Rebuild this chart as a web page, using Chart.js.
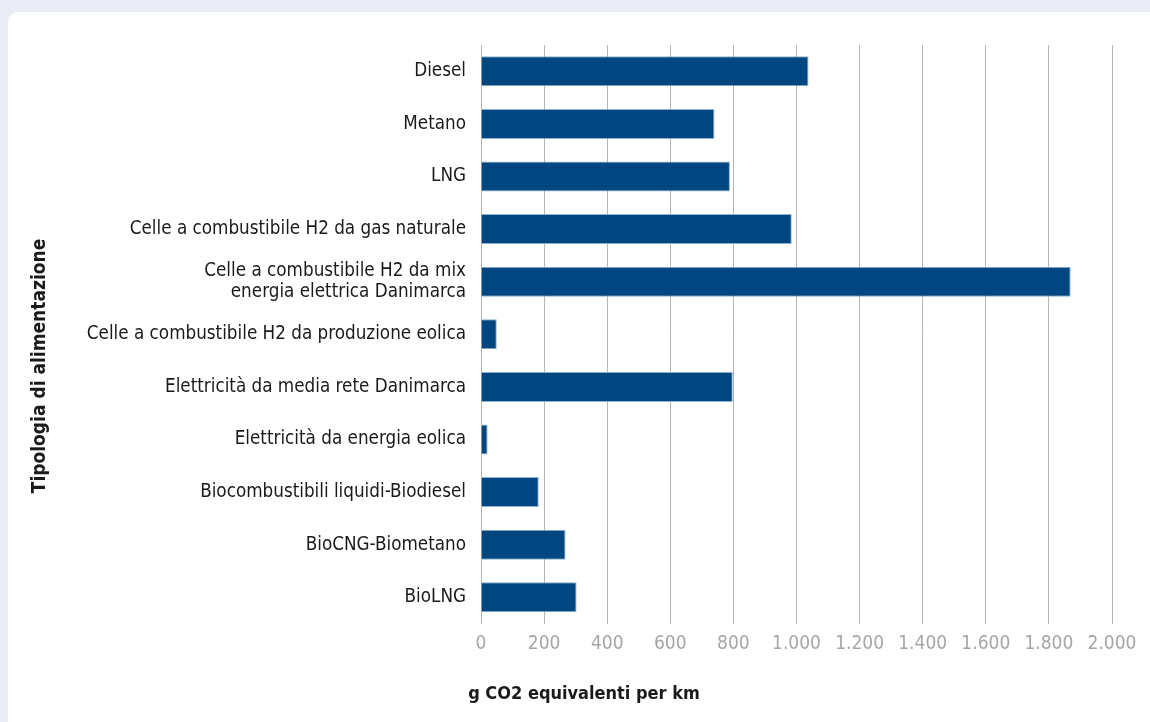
<!DOCTYPE html>
<html lang="it">
<head>
<meta charset="utf-8">
<title>Emissioni per tipologia di alimentazione</title>
<script src="https://cdn.jsdelivr.net/npm/chart.js@4"></script>
<style>
  html, body { margin: 0; padding: 0; overflow: hidden; background: #eaecf5; }
  .card {
    position: absolute; left: 8px; top: 12px;
    width: 1160px; height: 730px;
    background: #ffffff; border-radius: 10px;
  }
  #emissioni { display: block; }
</style>
</head>
<body>
<div class="card">
  <canvas id="emissioni" width="1152" height="710"></canvas>
</div>
<script>
const categorie = [
    'Diesel',
    'Metano',
    'LNG',
    'Celle a combustibile H2 da gas naturale',
    ['Celle a combustibile H2 da mix', 'energia elettrica Danimarca'],
    'Celle a combustibile H2 da produzione eolica',
    'Elettricità da media rete Danimarca',
    'Elettricità da energia eolica',
    'Biocombustibili liquidi-Biodiesel',
    'BioCNG-Biometano',
    'BioLNG'
];
const emissioni = [1038, 740, 789, 985, 1869, 50, 798, 21, 183, 268, 303];

const asseX = { min: 0, max: 2000, step: 200 };
const titoloX = 'g CO2 equivalenti per km';
const titoloY = 'Tipologia di alimentazione';

const FONT = "'Liberation Sans Narrow', 'DejaVu Sans Condensed', 'Arial Narrow', sans-serif";

// numeri all'italiana: 1.000, 1.200 ...
function formatta(v) {
    return v.toLocaleString('it-IT');
}

// titolo verticale a sinistra, disegnato a mano
const titoloVerticale = {
    id: 'titoloVerticale',
    afterDraw(chart) {
        const ctx = chart.ctx;
        ctx.save();
        ctx.translate(32, 354);
        ctx.rotate(-Math.PI / 2);
        ctx.font = 'bold 19px ' + FONT;
        ctx.fillStyle = '#1a1a1a';
        ctx.textAlign = 'center';
        ctx.textBaseline = 'middle';
        ctx.fillText(titoloY, 0, 0);
        ctx.restore();
    }
};

new Chart(document.getElementById('emissioni'), {
    type: 'bar',
    data: {
        labels: categorie,
        datasets: [{
            data: emissioni,
            backgroundColor: '#004680',
            borderColor: '#8fb0d0',
            borderWidth: 1,
            borderSkipped: 'start',
            categoryPercentage: 1,
            barPercentage: 0.57
        }]
    },
    options: {
        indexAxis: 'y',
        responsive: false,
        animation: false,
        layout: { padding: { top: 33, right: 48, bottom: 17, left: 48 } },
        plugins: {
            legend: { display: false },
            tooltip: { enabled: false },
            title: {
                display: true,
                position: 'bottom',
                text: titoloX,
                color: '#1a1a1a',
                font: { family: FONT, size: 18, weight: 'bold' },
                padding: { top: 19, bottom: 0 }
            }
        },
        scales: {
            x: {
                min: asseX.min,
                max: asseX.max,
                grid: { color: '#b4b4b4', lineWidth: 1, drawTicks: false },
                border: { display: false },
                ticks: {
                    stepSize: asseX.step,
                    color: '#a6a6a6',
                    padding: 9,
                    font: { family: FONT, size: 19 },
                    callback: v => formatta(v)
                }
            },
            y: {
                grid: { display: false },
                border: { display: false },
                afterFit(scale) { scale.width = 425; },
                ticks: {
                    color: '#1a1a1a',
                    padding: 7,
                    font: { family: FONT, size: 18.7, lineHeight: 1.1 }
                }
            }
        }
    },
    plugins: [titoloVerticale]
});
</script>
</body>
</html>
